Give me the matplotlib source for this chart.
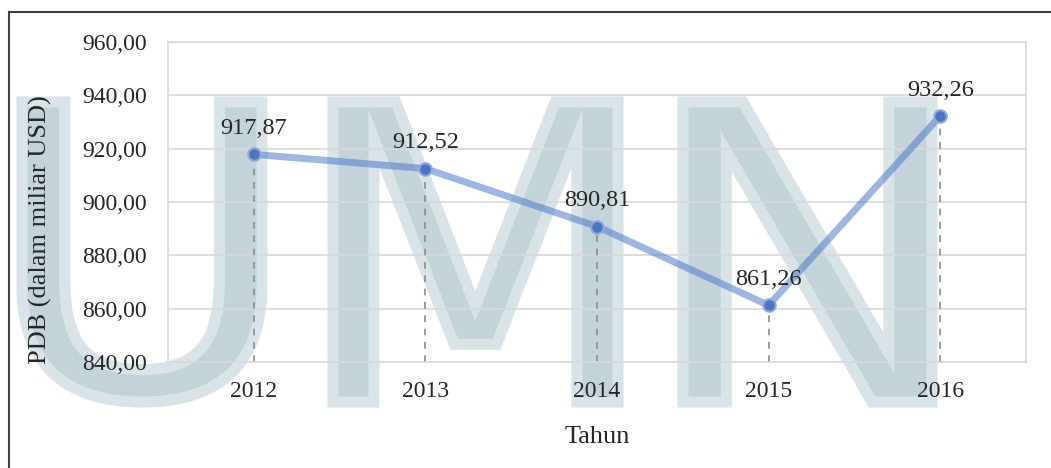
import matplotlib
matplotlib.use("Agg")
import matplotlib.pyplot as plt
from matplotlib.textpath import TextPath
from matplotlib.font_manager import FontProperties
from matplotlib.patches import PathPatch
from matplotlib.transforms import Affine2D
from matplotlib.lines import Line2D

years = ["2012", "2013", "2014", "2015", "2016"]
pdb = [917.87, 912.52, 890.81, 861.26, 932.26]
labels = ["917,87", "912,52", "890,81", "861,26", "932,26"]
yticks = [840, 860, 880, 900, 920, 940, 960]
ytick_labels = ["840,00", "860,00", "880,00", "900,00", "920,00", "940,00", "960,00"]

W, H = 1051, 468
fig = plt.figure(figsize=(W / 100, H / 100), dpi=100)
fig.patch.set_facecolor("white")
serif = "Liberation Serif"

# watermark letters (pixel boxes: x0, x1, ytop, ybottom)
fp = FontProperties(family="DejaVu Sans", weight="normal")
boxes = {"U": (22, 262, 102, 402), "M": (333, 618, 102, 402), "N": (683, 932, 102, 402)}
for ch, (x0, x1, yt, yb) in boxes.items():
    tp = TextPath((0, 0), ch, size=100, prop=fp)
    ext = tp.get_extents()
    sx = (x1 - x0) / ext.width / W
    sy = (yb - yt) / ext.height / H
    tr = Affine2D().translate(-ext.x0, -ext.y0).scale(sx, sy).translate(x0 / W, 1 - yb / H)
    path = tr.transform_path(tp)
    fig.patches.append(PathPatch(path, transform=fig.transFigure, facecolor="#c3d3da",
                                 edgecolor="#d8e4e8", linewidth=8, zorder=0.5))

# outer frame lines
fig.add_artist(Line2D([9 / W, 9 / W], [0, 1 - 12 / H], transform=fig.transFigure,
                      color="#404040", linewidth=1.5, zorder=3))
fig.add_artist(Line2D([9 / W, 1], [1 - 12 / H, 1 - 12 / H], transform=fig.transFigure,
                      color="#404040", linewidth=1.5, zorder=3))

left, right, top, bottom = 168, 1026, 42, 362
ax = fig.add_axes([left / W, 1 - bottom / H, (right - left) / W, (bottom - top) / H])
ax.set_facecolor("none")
ax.set_zorder(1)

x = list(range(len(years)))
ax.set_xlim(-0.5, len(years) - 0.5)
ax.set_ylim(840, 960)
ax.set_yticks(yticks)
ax.set_yticklabels(ytick_labels)
ax.set_xticks(x)
ax.set_xticklabels(years)
ax.grid(axis="y", color="#d9d9d9", linewidth=1.2, zorder=0)
ax.set_axisbelow(True)
for s in ax.spines.values():
    s.set_color("#d9d9d9")
    s.set_linewidth(1.2)
ax.tick_params(length=0, labelsize=17, colors="#262626")
ax.tick_params(axis="x", pad=14)
ax.tick_params(axis="y", pad=15)
for lab in ax.get_xticklabels() + ax.get_yticklabels():
    lab.set_fontfamily(serif)

for xi, v in zip(x, pdb):
    ax.plot([xi, xi], [840, v], color="#8c8c8c", linestyle=(0, (4, 4)), linewidth=1.2, zorder=2)

ax.plot(x, pdb, color="#4f7bcc", alpha=0.55, linewidth=5, solid_capstyle="round", zorder=3)
ax.plot(x, pdb, linestyle="none", marker="o", markersize=9, markerfacecolor="#4a74c4",
        markeredgecolor="#8fa9dc", markeredgewidth=1.5, zorder=4)

for xi, v, t in zip(x, pdb, labels):
    ax.annotate(t, (xi, v), xytext=(0, 11), textcoords="offset points", ha="center",
                va="bottom", fontsize=17.5, family=serif, color="#262626", zorder=5)

fig.text(597 / W, 1 - 437 / H, "Tahun", ha="center", va="center", fontsize=19,
         family=serif, color="#262626")
fig.text(40 / W, 1 - 230 / H, "PDB (dalam miliar USD)", ha="center", va="center",
         rotation=90, fontsize=19, family=serif, color="#262626")

fig.savefig("out.png", dpi=100)
